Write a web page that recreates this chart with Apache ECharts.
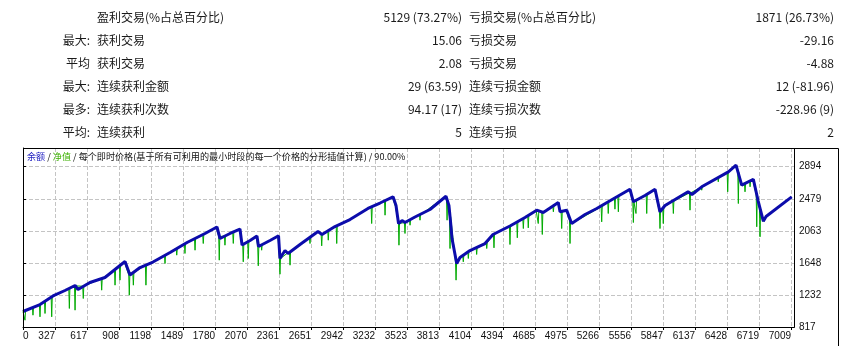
<!DOCTYPE html>
<html>
<head>
<meta charset="utf-8">
<script src="https://cdn.jsdelivr.net/npm/echarts@6/dist/echarts.min.js"></script>
<style>
  html, body { margin: 0; padding: 0; background: #fff; }
  #chart { width: 847px; height: 346px; }
</style>
</head>
<body>
<div id="chart"></div>
<script>
// summary table
const prefixes = ['', '最大:', '平均', '最大:', '最多:', '平均:']
const winLabels = ['盈利交易(%占总百分比)', '获利交易', '获利交易', '连续获利金额', '连续获利次数', '连续获利']
const winValues = ['5129 (73.27%)', '15.06', '2.08', '29 (63.59)', '94.17 (17)', '5']
const lossLabels = ['亏损交易(%占总百分比)', '亏损交易', '亏损交易', '连续亏损金额', '连续亏损次数', '连续亏损']
const lossValues = ['1871 (26.73%)', '-29.16', '-4.88', '12 (-81.96)', '-228.96 (9)', '2']

// axes
const xLabels = ['0', '327', '617', '908', '1198', '1489', '1780', '2070', '2361', '2651', '2942', '3232',
  '3523', '3813', '4104', '4394', '4685', '4975', '5266', '5556', '5847', '6137', '6428', '6719', '7009']
const yMin = 817
const yStep = 415.4

// balance curve (trade no., value)
const balT = [0, 155, 274, 383, 475, 502, 611, 748, 885, 931, 976, 1068, 1186, 1342, 1497, 1661, 1770, 1798,
  1889, 1980, 1999, 2072, 2135, 2149, 2254, 2332, 2345, 2391, 2419, 2528, 2692, 2729, 2847, 2984, 3148, 3258,
  3377, 3404, 3427, 3459, 3486, 3577, 3714, 3860, 3887, 3905, 3915, 3958, 3988, 4079, 4216, 4289, 4444, 4581,
  4688, 4748, 4885, 4901, 4962, 5007, 5129, 5236, 5357, 5539, 5570, 5676, 5768, 5813, 5859, 6069, 6105, 6194,
  6437, 6507, 6559, 6665, 6708, 6756, 6781, 7015]
const balance = [1018, 1108, 1219, 1290, 1355, 1303, 1394, 1459, 1614, 1666, 1491, 1588, 1659, 1782, 1912, 2029, 2113, 1964,
  2029, 2087, 1880, 1938, 1996, 1860, 1938, 1999, 1705, 1808, 1770, 1886, 2055, 2016, 2119, 2210, 2353, 2424,
  2504, 2392, 2158, 2197, 2171, 2243, 2340, 2512, 2392, 2132, 1964, 1640, 1718, 1808, 1899, 2016, 2126, 2236,
  2331, 2301, 2430, 2310, 2331, 2158, 2275, 2353, 2453, 2603, 2440, 2521, 2603, 2310, 2392, 2569, 2534, 2634,
  2828, 2914, 2655, 2732, 2456, 2188, 2249, 2504]

// equity: level next to each point and the low of its dip
const eqT = [18, 91, 155, 201, 262, 423, 475, 550, 718, 840, 885, 931, 970, 1007, 1122, 1296, 1403, 1478, 1570, 1645,
  1770, 1791, 1843, 1919, 1980, 2010, 2056, 2135, 2147, 2178, 2332, 2345, 2437, 2619, 2692, 2726, 2786, 2863, 3182, 3304,
  3377, 3404, 3431, 3486, 3532, 3623, 3850, 3870, 3897, 3952, 4018, 4064, 4140, 4232, 4298, 4444, 4511, 4566,
  4611, 4688, 4702, 4739, 4840, 4880, 4916, 4962, 4992, 5010, 5281, 5341, 5402, 5433, 5539, 5570, 5594, 5692, 5768,
  5813, 5843, 5935, 6087, 6194, 6345, 6431, 6507, 6528, 6559, 6589, 6635, 6665, 6696, 6726, 6756, 6802]
const eqTop = [1025, 1070, 1105, 1150, 1205, 1315, 1350, 1345, 1445, 1560, 1610, 1655, 1495, 1520, 1620, 1745, 1830, 1895, 1960, 2015,
  2105, 1990, 1995, 2045, 2080, 1890, 1925, 1990, 1860, 1885, 1990, 1705, 1795, 1975, 2050, 2015, 2065, 2125, 2370, 2450,
  2500, 2380, 2160, 2170, 2205, 2270, 2500, 2460, 2250, 1660, 1745, 1795, 1850, 1910, 2020, 2120, 2175, 2220,
  2260, 2325, 2320, 2300, 2380, 2425, 2310, 2325, 2200, 2155, 2375, 2440, 2490, 2515, 2598, 2440, 2455, 2535, 2598,
  2310, 2365, 2450, 2555, 2630, 2755, 2820, 2905, 2820, 2650, 2675, 2710, 2725, 2530, 2350, 2185, 2270]
const eqLow = [905, 970, 949, 992, 949, 1057, 1035, 1186, 1294, 1359, 1424, 1655, 1229, 1359, 1359, 1640, 1748, 1770, 1812, 1899,
  2105, 1683, 1877, 1900, 2080, 1662, 1705, 1990, 1610, 1812, 1990, 1501, 1618, 1899, 2050, 1869, 1942, 1899, 2158, 2266,
  2500, 2380, 1877, 2029, 2136, 2201, 2500, 2201, 1834, 1424, 1662, 1705, 1757, 1834, 1843, 1886, 1973, 2093,
  2102, 2325, 2158, 2016, 2310, 2425, 2093, 2325, 1899, 2155, 2180, 2288, 2344, 2310, 2598, 2171, 2288, 2288, 2598,
  2093, 2158, 2288, 2331, 2590, 2699, 2569, 2905, 2417, 2650, 2569, 2634, 2725, 2116, 1986, 2185, 2245]
const eqStart = [0, 1018]
const eqEnd = [7015, 2495]

const xStep = 7009 / 24
const xMax = 7036
const yMax = 3137

const balanceData = balT.map((t, i) => [t, balance[i]])
const equityData = [eqStart]
eqT.forEach((t, i) => {
  equityData.push([t - 5, eqTop[i]], [t, eqLow[i]], [t + 5, eqTop[i]])
})
equityData.push(eqEnd)

const cjk = '"Noto Sans CJK SC", sans-serif'
const graphics = []
const rowY = 17
const rowH = 23
prefixes.forEach((p, i) => {
  const y = rowY + i * rowH
  const base = { font: '12px ' + cjk, fill: '#1a1a1a', verticalAlign: 'middle' }
  graphics.push({ type: 'text', x: 90, y, style: { ...base, text: p, align: 'right' } })
  graphics.push({ type: 'text', x: 97, y, style: { ...base, text: winLabels[i], align: 'left' } })
  graphics.push({ type: 'text', x: 462, y, style: { ...base, text: winValues[i], align: 'right' } })
  graphics.push({ type: 'text', x: 469, y, style: { ...base, text: lossLabels[i], align: 'left' } })
  graphics.push({ type: 'text', x: 834, y, style: { ...base, text: lossValues[i], align: 'right' } })
})

// chart caption
const capFont = '9.1px ' + cjk
graphics.push({
  type: 'text', x: 27, y: 157, z: 10,
  style: {
    text: '{b|余额} / {g|净值} / 每个即时价格(基于所有可利用的最小时段的每一个价格的分形插值计算) / 90.00%',
    font: capFont, fill: '#111', verticalAlign: 'middle',
    rich: {
      b: { fill: '#1c1cc0', font: capFont },
      g: { fill: '#3cb000', font: capFont }
    }
  }
})

// plot border and outer frame
graphics.push({ type: 'rect', z: 5, shape: { x: 23.5, y: 148.5, width: 771, height: 179 }, style: { stroke: '#000', lineWidth: 1, fill: null } })
graphics.push({ type: 'polyline', z: 5, shape: { points: [[23, 148.5], [838.5, 148.5], [838.5, 346]] }, style: { stroke: '#000', lineWidth: 1, fill: null } })

const chart = echarts.init(document.getElementById('chart'))
const axisFont = '"Liberation Sans", sans-serif'
const gridLine = { show: true, lineStyle: { color: '#c4c4c4', width: 1, type: 'dashed', dashOffset: 0 } }

chart.setOption({
  animation: false,
  graphic: graphics,
  grid: { left: 23, top: 148, right: 53, bottom: 19 },
  xAxis: {
    type: 'value',
    min: 0,
    max: xMax,
    interval: xStep,
    axisLine: { show: true, lineStyle: { color: '#000' } },
    axisTick: { show: true, length: 3, lineStyle: { color: '#000' } },
    axisLabel: {
      color: '#111', fontFamily: axisFont, fontSize: 10, margin: 4, align: 'right',
      showMaxLabel: false,
      formatter: (v) => {
        const k = Math.round(v / xStep)
        if (k === 0) return '{z|0}'
        return xLabels[k] || ''
      },
      rich: { z: { width: 0, align: 'left', padding: [0, 0, 0, 1], fontFamily: axisFont, fontSize: 10, color: '#111' } }
    },
    splitLine: gridLine
  },
  yAxis: {
    type: 'value',
    position: 'right',
    min: yMin,
    max: yMax,
    interval: yStep,
    axisLine: { show: true, lineStyle: { color: '#000' } },
    axisTick: { show: true, length: 3, lineStyle: { color: '#000' } },
    axisLabel: {
      color: '#111', fontFamily: axisFont, fontSize: 10, margin: 5,
      showMaxLabel: false,
      formatter: (v) => String(Math.round(v))
    },
    splitLine: gridLine
  },
  series: [
    {
      name: '净值',
      type: 'line',
      data: equityData,
      showSymbol: false,
      z: 2,
      lineStyle: { color: '#00aa00', width: 1 }
    },
    {
      name: '余额',
      type: 'line',
      data: balanceData,
      showSymbol: false,
      z: 3,
      lineStyle: { color: '#0c0cab', width: 3 }
    }
  ]
})
</script>
</body>
</html>
